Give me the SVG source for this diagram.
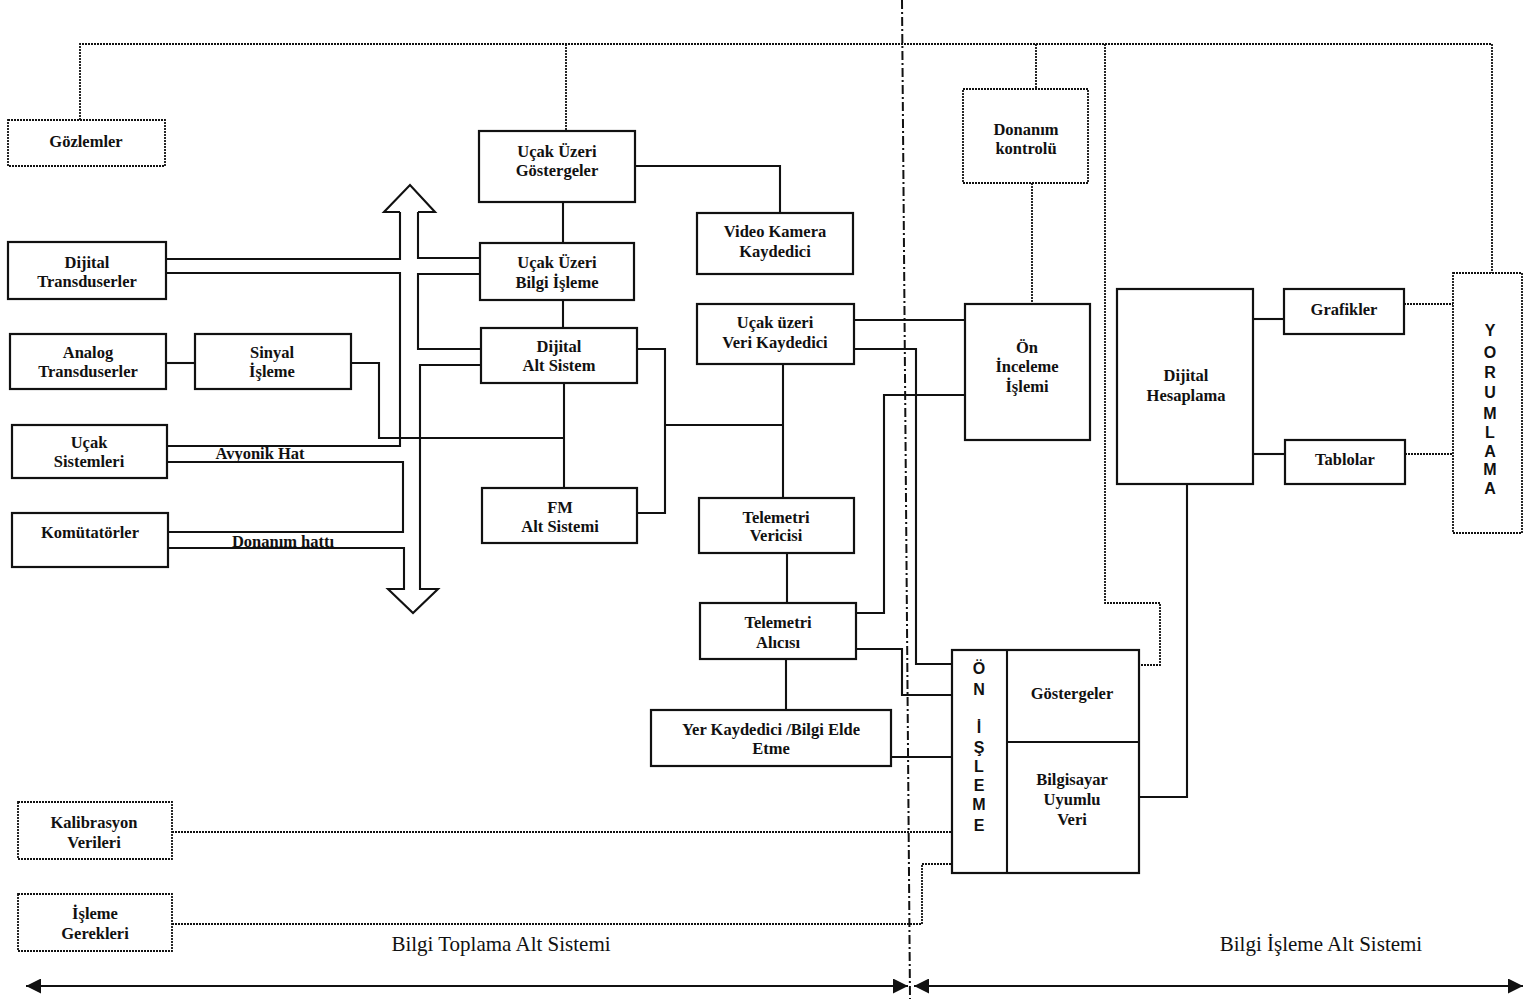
<svg xmlns="http://www.w3.org/2000/svg" width="1525" height="999" viewBox="0 0 1525 999">
<style>
.box{fill:#fff;stroke:#111;stroke-width:2.2}
.dbox{fill:#fff;stroke:#111;stroke-width:1.8;stroke-dasharray:2 1}
.ln{fill:none;stroke:#111;stroke-width:2.1}
.dl{fill:none;stroke:#111;stroke-width:1.8;stroke-dasharray:2 1}
.sep{fill:none;stroke:#111;stroke-width:2;stroke-dasharray:9 3 2 3}
text{fill:#111}
.t{font-family:"Liberation Serif","Times New Roman",serif;font-weight:bold;font-size:16.5px;text-anchor:middle}
.big{font-family:"Liberation Serif","Times New Roman",serif;font-size:21px;text-anchor:middle}
.v{font-family:"Liberation Sans",Arial,sans-serif;font-weight:bold;font-size:16px;text-anchor:middle}
</style>
<defs>
<marker id="ah" viewBox="0 0 10 10" refX="10" refY="5" markerWidth="18" markerHeight="15" markerUnits="userSpaceOnUse" orient="auto-start-reverse"><path d="M0,0 L10,5 L0,10 z" fill="#111"/></marker>
</defs>
<rect width="1525" height="999" fill="#fff"/>

<g id="connectors">
<path class="sep" d="M902,0 L910,999"/>
<path class="ln" d="M26,986 L908,986" marker-start="url(#ah)" marker-end="url(#ah)"/>
<path class="ln" d="M914,986 L1523,986" marker-start="url(#ah)" marker-end="url(#ah)"/>
<path class="dl" d="M80,120 L80,44 L1492,44 L1492,273"/>
<path class="dl" d="M566,44 L566,131"/>
<path class="dl" d="M1036,44 L1036,89"/>
<path class="dl" d="M1105,44 L1105,603 L1160,603 L1160,665 L1139,665"/>
<path class="dl" d="M1032,183 L1032,304"/>
<path class="dl" d="M1404,304 L1453,304"/>
<path class="dl" d="M1405,454 L1453,454"/>
<path class="dl" d="M172,832 L952,832"/>
<path class="dl" d="M172,924 L922,924 L922,864 L952,864"/>
<path class="ln" d="M400,212 L384,212 L410,185 L435,212 L418,212"/>
<path class="ln" d="M400,212 L400,259 L166,259"/>
<path class="ln" d="M166,273 L400,273 L400,446 L167,446"/>
<path class="ln" d="M167,462 L403,462 L403,532 L168,532"/>
<path class="ln" d="M168,548 L404,548 L404,589 L388,589 L413,613 L438,589 L420,589 L420,365 L481,365"/>
<path class="ln" d="M418,212 L418,258 L480,258"/>
<path class="ln" d="M480,274 L418,274 L418,349 L481,349"/>
<path class="ln" d="M166,363 L195,363"/>
<path class="ln" d="M351,363 L379,363 L379,438 L564,438"/>
<path class="ln" d="M563,202 L563,243"/>
<path class="ln" d="M563,300 L563,328"/>
<path class="ln" d="M564,383 L564,488"/>
<path class="ln" d="M635,166 L780,166 L780,213"/>
<path class="ln" d="M637,349 L665,349 L665,513 L637,513"/>
<path class="ln" d="M665,425 L783,425"/>
<path class="ln" d="M783,364 L783,498"/>
<path class="ln" d="M787,553 L787,603"/>
<path class="ln" d="M786,659 L786,710"/>
<path class="ln" d="M854,320 L965,320"/>
<path class="ln" d="M854,349 L916,349 L916,664 L952,664"/>
<path class="ln" d="M856,613 L884,613 L884,395 L965,395"/>
<path class="ln" d="M856,649 L902,649 L902,695 L952,695"/>
<path class="ln" d="M891,757 L952,757"/>
<path class="ln" d="M1253,319 L1284,319"/>
<path class="ln" d="M1253,454 L1285,454"/>
<path class="ln" d="M1187,484 L1187,797 L1139,797"/>
</g>

<g id="gozlemler"><rect class="dbox" x="8" y="120" width="157" height="46"/><text class="t" x="86" y="147">Gözlemler</text></g>
<g id="dijital-transduserler"><rect class="box" x="8" y="242" width="158" height="57"/><text class="t" x="87" y="268">Dijital</text><text class="t" x="87" y="287">Transduserler</text></g>
<g id="analog-transduserler"><rect class="box" x="10" y="334" width="156" height="55"/><text class="t" x="88" y="358">Analog</text><text class="t" x="88" y="377">Transduserler</text></g>
<g id="sinyal-isleme"><rect class="box" x="195" y="334" width="156" height="55"/><text class="t" x="272" y="358">Sinyal</text><text class="t" x="272" y="377">İşleme</text></g>
<g id="ucak-sistemleri"><rect class="box" x="12" y="425" width="155" height="53"/><text class="t" x="89" y="448">Uçak</text><text class="t" x="89" y="467">Sistemleri</text></g>
<g id="komutatorler"><rect class="box" x="12" y="513" width="156" height="54"/><text class="t" x="90" y="538">Komütatörler</text></g>
<g id="labels-bus"><text class="t" x="260" y="459">Avyonik Hat</text><text class="t" x="283" y="547">Donanım hattı</text></g>
<g id="kalibrasyon"><rect class="dbox" x="18" y="802" width="154" height="57"/><text class="t" x="94" y="828">Kalibrasyon</text><text class="t" x="94" y="848">Verileri</text></g>
<g id="isleme-gerekleri"><rect class="dbox" x="18" y="894" width="154" height="57"/><text class="t" x="95" y="919">İşleme</text><text class="t" x="95" y="939">Gerekleri</text></g>

<g id="ucak-uzeri-gostergeler"><rect class="box" x="479" y="131" width="156" height="71"/><text class="t" x="557" y="157">Uçak Üzeri</text><text class="t" x="557" y="176">Göstergeler</text></g>
<g id="video-kamera"><rect class="box" x="697" y="213" width="156" height="61"/><text class="t" x="775" y="237">Video Kamera</text><text class="t" x="775" y="257">Kaydedici</text></g>
<g id="bilgi-isleme"><rect class="box" x="480" y="243" width="154" height="57"/><text class="t" x="557" y="268">Uçak Üzeri</text><text class="t" x="557" y="288">Bilgi İşleme</text></g>
<g id="dijital-alt-sistem"><rect class="box" x="481" y="328" width="156" height="55"/><text class="t" x="559" y="352">Dijital</text><text class="t" x="559" y="371">Alt Sistem</text></g>
<g id="veri-kaydedici"><rect class="box" x="697" y="304" width="157" height="60"/><text class="t" x="775" y="328">Uçak üzeri</text><text class="t" x="775" y="348">Veri Kaydedici</text></g>
<g id="fm-alt-sistemi"><rect class="box" x="482" y="488" width="155" height="55"/><text class="t" x="560" y="513">FM</text><text class="t" x="560" y="532">Alt Sistemi</text></g>
<g id="telemetri-vericisi"><rect class="box" x="699" y="498" width="155" height="55"/><text class="t" x="776" y="523">Telemetri</text><text class="t" x="776" y="541">Vericisi</text></g>
<g id="telemetri-alicisi"><rect class="box" x="700" y="603" width="156" height="56"/><text class="t" x="778" y="628">Telemetri</text><text class="t" x="778" y="648">Alıcısı</text></g>
<g id="yer-kaydedici"><rect class="box" x="651" y="710" width="240" height="56"/><text class="t" x="771" y="735">Yer Kaydedici /Bilgi Elde</text><text class="t" x="771" y="754">Etme</text></g>

<g id="donanim-kontrolu"><rect class="dbox" x="963" y="89" width="125" height="94"/><text class="t" x="1026" y="135">Donanım</text><text class="t" x="1026" y="154">kontrolü</text></g>
<g id="on-inceleme"><rect class="box" x="965" y="304" width="125" height="136"/><text class="t" x="1027" y="353">Ön</text><text class="t" x="1027" y="372">İnceleme</text><text class="t" x="1027" y="392">İşlemi</text></g>
<g id="dijital-hesaplama"><rect class="box" x="1117" y="289" width="136" height="195"/><text class="t" x="1186" y="381">Dijital</text><text class="t" x="1186" y="401">Hesaplama</text></g>
<g id="grafikler"><rect class="box" x="1284" y="289" width="120" height="45"/><text class="t" x="1344" y="315">Grafikler</text></g>
<g id="tablolar"><rect class="box" x="1285" y="440" width="120" height="44"/><text class="t" x="1345" y="465">Tablolar</text></g>
<g id="yorumlama"><rect class="dbox" x="1453" y="273" width="69" height="260"/>
<text class="v" x="1490" y="336">Y</text><text class="v" x="1490" y="358">O</text><text class="v" x="1490" y="378">R</text><text class="v" x="1490" y="398">U</text><text class="v" x="1490" y="419">M</text><text class="v" x="1490" y="438">L</text><text class="v" x="1490" y="457">A</text><text class="v" x="1490" y="475">M</text><text class="v" x="1490" y="494">A</text></g>

<g id="on-isleme"><rect class="box" x="952" y="650" width="187" height="223"/><path class="ln" d="M1007,650 L1007,873 M1007,742 L1139,742"/>
<text class="v" x="979" y="674">Ö</text><text class="v" x="979" y="695">N</text><text class="v" x="979" y="733">İ</text><text class="v" x="979" y="753">Ş</text><text class="v" x="979" y="772">L</text><text class="v" x="979" y="791">E</text><text class="v" x="979" y="810">M</text><text class="v" x="979" y="831">E</text>
<text class="t" x="1072" y="699">Göstergeler</text><text class="t" x="1072" y="785">Bilgisayar</text><text class="t" x="1072" y="805">Uyumlu</text><text class="t" x="1072" y="825">Veri</text></g>

<g id="subsystem-labels"><text class="big" x="501" y="951">Bilgi Toplama Alt Sistemi</text><text class="big" x="1321" y="951">Bilgi İşleme Alt Sistemi</text></g>
</svg>
